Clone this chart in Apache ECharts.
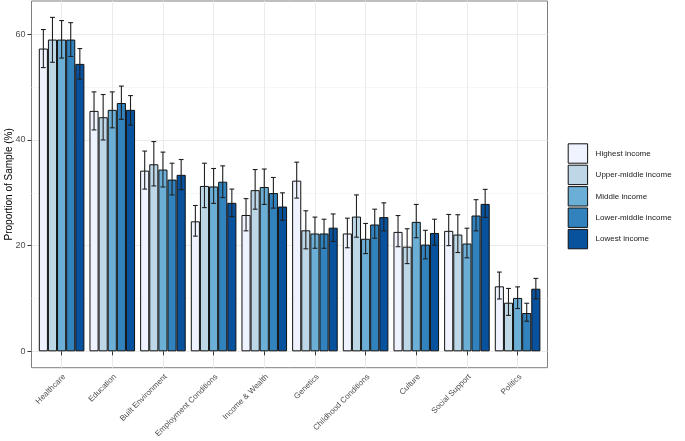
<!DOCTYPE html>
<html>
<head>
<meta charset="utf-8">
<script src="https://cdn.jsdelivr.net/npm/echarts@6/dist/echarts.min.js"></script>
<style>
html,body{margin:0;padding:0;background:#fff;}
#chart{width:685px;height:441px;}
</style>
</head>
<body>
<div id="chart"></div>
<script>
var categories = ['Healthcare','Education','Built Environment','Employment Conditions','Income & Wealth','Genetics','Childhood Conditions','Culture','Social Support','Politics'];
var groupNames = ['Highest income','Upper-middle income','Middle income','Lower-middle income','Lowest income'];
var yTicks = [0, 20, 40, 60];
var yMinorTicks = [10, 30, 50];

var highest     = [57.3, 45.5, 34.2, 24.6, 25.8, 32.3, 22.3, 22.6, 22.8, 12.3];
var highestLo   = [53.7, 41.9, 30.7, 21.8, 22.8, 29.0, 19.6, 19.8, 20.0, 9.9];
var highestHi   = [60.9, 49.1, 37.9, 27.6, 28.9, 35.8, 25.2, 25.7, 25.9, 15.0];

var upperMiddle   = [59.0, 44.3, 35.4, 31.3, 30.5, 22.9, 25.5, 19.8, 22.1, 9.2];
var upperMiddleLo = [54.7, 40.0, 31.3, 27.2, 26.9, 19.4, 21.6, 16.6, 18.7, 6.8];
var upperMiddleHi = [63.2, 48.6, 39.7, 35.6, 34.4, 26.6, 29.6, 23.2, 25.85, 11.9];

var middle   = [59.0, 45.7, 34.4, 31.2, 31.1, 22.3, 21.3, 24.5, 20.4, 10.1];
var middleLo = [55.5, 42.3, 31.1, 28.0, 27.8, 19.5, 18.5, 21.5, 17.7, 8.1];
var middleHi = [62.6, 49.1, 37.7, 34.6, 34.5, 25.4, 24.2, 27.8, 23.3, 12.2];

var lowerMiddle   = [59.0, 47.0, 32.5, 32.1, 29.95, 22.3, 24.0, 20.2, 25.7, 7.25];
var lowerMiddleLo = [55.8, 43.9, 29.6, 29.1, 27.1, 19.5, 21.4, 17.5, 22.8, 5.7];
var lowerMiddleHi = [62.2, 50.2, 35.6, 35.1, 32.9, 25.0, 26.9, 22.9, 28.7, 9.1];

var lowest   = [54.4, 45.7, 33.4, 28.1, 27.4, 23.4, 25.4, 22.4, 27.9, 11.85];
var lowestLo = [51.5, 42.8, 30.6, 25.5, 24.8, 20.8, 22.8, 20.1, 25.35, 9.95];
var lowestHi = [57.3, 48.4, 36.3, 30.7, 30.0, 26.0, 28.1, 25.0, 30.65, 13.8];

var values = [highest, upperMiddle, middle, lowerMiddle, lowest];
var lows = [highestLo, upperMiddleLo, middleLo, lowerMiddleLo, lowestLo];
var highs = [highestHi, upperMiddleHi, middleHi, lowerMiddleHi, lowestHi];
var colors = ['#EFF3FF', '#BDD7E7', '#6BAED6', '#3182BD', '#08519C'];

var FONT = 'Liberation Sans, Arial, sans-serif';
var BAR_W = 9.12;
var Y_MIN = -3.1, Y_MAX = 66.3;

var series = [];
groupNames.forEach(function (name, g) {
  series.push({
    name: name,
    type: 'bar',
    xAxisIndex: 1,
    yAxisIndex: 2,
    barWidth: BAR_W,
    barGap: '0%',
    clip: false,
    itemStyle: { color: colors[g], borderColor: '#111', borderWidth: 1 },
    emphasis: { disabled: true },
    data: values[g]
  });
});
groupNames.forEach(function (name, g) {
  var d = categories.map(function (c, i) { return [i, lows[g][i], highs[g][i]]; });
  series.push({
    name: 'err' + g,
    type: 'custom',
    xAxisIndex: 1,
    yAxisIndex: 2,
    clip: false,
    z: 5,
    renderItem: function (params, api) {
      var idx = api.value(0);
      var pLo = api.coord([idx, api.value(1)]);
      var pHi = api.coord([idx, api.value(2)]);
      var x = pLo[0] + (g - 2) * BAR_W;
      var cap = 2.4;
      var st = { stroke: '#1f1f1f', lineWidth: 1.1 };
      return {
        type: 'group',
        children: [
          { type: 'line', shape: { x1: x, y1: pLo[1], x2: x, y2: pHi[1] }, style: st },
          { type: 'line', shape: { x1: x - cap, y1: pLo[1], x2: x + cap, y2: pLo[1] }, style: st },
          { type: 'line', shape: { x1: x - cap, y1: pHi[1], x2: x + cap, y2: pHi[1] }, style: st }
        ]
      };
    },
    data: d
  });
});

var option = {
  animation: false,
  backgroundColor: '#ffffff',
  textStyle: { fontFamily: FONT },
  grid: [
    { left: 31.5, right: 137.5, top: 1, bottom: 73.3, show: true, borderColor: '#7f7f7f', borderWidth: 1, backgroundColor: 'transparent', containLabel: false, outerBoundsMode: 'none' },
    { left: 61.6, right: 167.4, top: 1, bottom: 73.3, containLabel: false, outerBoundsMode: 'none' }
  ],
  xAxis: [
    { gridIndex: 0, type: 'value', min: 0, max: 1, axisLine: { show: false }, axisTick: { show: false }, axisLabel: { show: false }, splitLine: { show: false } },
    {
      gridIndex: 1, type: 'category', data: categories, boundaryGap: false,
      axisLine: { show: false },
      axisTick: { show: true, length: 4, lineStyle: { color: '#333', width: 1 } },
      axisLabel: { rotate: 45, fontSize: 8, color: '#4d4d4d', fontFamily: FONT, margin: 5, interval: 0, verticalAlign: 'top' },
      splitLine: { show: true, lineStyle: { color: '#ebebeb', width: 1 } }
    }
  ],
  yAxis: [
    {
      gridIndex: 0, type: 'value', min: Y_MIN, max: Y_MAX,
      axisLine: { show: false },
      axisTick: { show: true, length: 4, customValues: yTicks, lineStyle: { color: '#333', width: 1 } },
      axisLabel: { show: true, customValues: yTicks, fontSize: 9, color: '#4d4d4d', fontFamily: FONT, margin: 6 },
      splitLine: { show: true, lineStyle: { color: '#ebebeb', width: 1 } },
      name: 'Proportion of Sample (%)', nameLocation: 'middle', nameGap: 17, nameMoveOverlap: false,
      nameTextStyle: { fontSize: 10, color: '#000', fontFamily: FONT }
    },
    {
      gridIndex: 0, type: 'value', min: Y_MIN, max: Y_MAX, position: 'left',
      axisLine: { show: false },
      axisTick: { show: false, customValues: yMinorTicks },
      axisLabel: { show: false, customValues: yMinorTicks },
      splitLine: { show: true, lineStyle: { color: '#f3f3f3', width: 0.7 } }
    },
    {
      gridIndex: 1, type: 'value', min: Y_MIN, max: Y_MAX,
      axisLine: { show: false }, axisTick: { show: false }, axisLabel: { show: false }, splitLine: { show: false }
    }
  ],
  legend: {
    orient: 'vertical',
    left: 567.7, top: 143.3,
    padding: 0,
    itemWidth: 19.4, itemHeight: 19.4, itemGap: 1,
    icon: 'rect',
    data: groupNames,
    selectedMode: false,
    itemStyle: { borderColor: '#111', borderWidth: 1 },
    textStyle: { fontSize: 8, color: '#1a1a1a', fontFamily: FONT, padding: [0, 0, 0, 3] }
  },
  series: series
};

var chart = echarts.init(document.getElementById('chart'), null, { renderer: 'canvas' });
chart.setOption(option);
</script>
</body>
</html>
